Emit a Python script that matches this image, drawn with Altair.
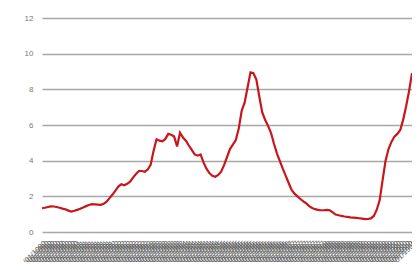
import altair as alt
import pandas as pd

values = [
    1.33, 1.36, 1.40, 1.44, 1.43, 1.40, 1.36, 1.31, 1.27, 1.20,
    1.15, 1.19, 1.24, 1.30, 1.38, 1.45, 1.51, 1.56, 1.55, 1.54,
    1.52, 1.58, 1.70, 1.90, 2.10, 2.32, 2.55, 2.68, 2.62, 2.70,
    2.82, 3.05, 3.25, 3.42, 3.42, 3.38, 3.50, 3.76, 4.55, 5.20,
    5.12, 5.08, 5.22, 5.50, 5.45, 5.35, 4.80, 5.57, 5.30, 5.12,
    4.85, 4.60, 4.35, 4.28, 4.35, 3.90, 3.55, 3.30, 3.15, 3.10,
    3.20, 3.38, 3.75, 4.20, 4.65, 4.90, 5.16, 5.80, 6.80, 7.25,
    8.10, 8.95, 8.90, 8.55, 7.60, 6.70, 6.28, 5.95, 5.55, 4.95,
    4.41, 3.98, 3.55, 3.15, 2.75, 2.36, 2.15, 2.00, 1.85, 1.72,
    1.60, 1.45, 1.35, 1.28, 1.24, 1.22, 1.22, 1.24, 1.22, 1.10,
    0.98, 0.94, 0.90, 0.87, 0.85, 0.82, 0.81, 0.79, 0.77, 0.75,
    0.72, 0.73, 0.76, 0.90, 1.25, 1.79, 2.92, 4.00, 4.65, 5.05,
    5.35, 5.50, 5.72, 6.30, 7.05, 7.90, 8.90,
]
labels = list(pd.date_range("1980-01-01", periods=len(values), freq="MS").strftime("%m/%d/%Y"))
y_ticks = [0, 2, 4, 6, 8, 10, 12]

df = pd.DataFrame({"date": labels, "value": values})

chart = alt.Chart(df).mark_line(color="#c8161b", strokeWidth=2.2, clip=True).encode(
    x=alt.X("date:O", sort=labels, title=None,
            scale=alt.Scale(padding=0),
            axis=alt.Axis(labelAngle=-45, labelFontSize=7.5, labelColor="#5a5a5a",
                          labelOverlap=False, ticks=False, domain=False, grid=False,
                          labelPadding=7, labelFont="Liberation Sans", labelBound=False)),
    y=alt.Y("value:Q", title=None,
            scale=alt.Scale(domain=[0, 12], nice=False),
            axis=alt.Axis(values=y_ticks, ticks=False, domain=False, labelPadding=9,
                          labelFontSize=8, labelColor="#777777", gridColor="#a8a8a8",
                          gridWidth=1.5, labelFont="Liberation Sans")),
).properties(
    width=370, height=214,
    autosize=alt.AutoSizeParams(type="none"),
    padding={"left": 34, "top": 10, "right": 0, "bottom": 30},
).configure_view(stroke=None)

chart.save("out.html", embed_options={"renderer": "svg", "actions": False})
